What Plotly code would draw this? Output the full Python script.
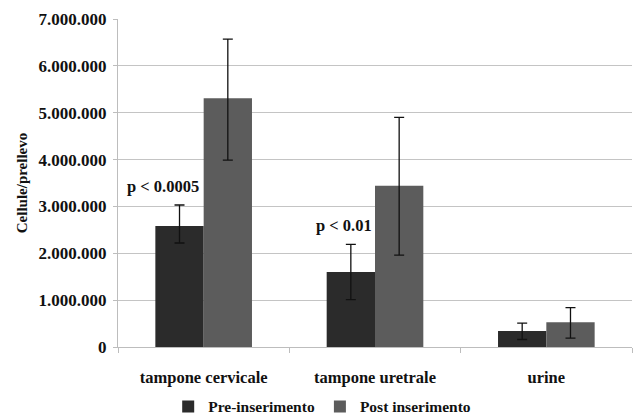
import plotly.graph_objects as go

categories = ["tampone cervicale", "tampone uretrale", "urine"]
pre_values = [2580000, 1600000, 340000]
pre_err_plus = [450000, 590000, 170000]
pre_err_minus = [360000, 590000, 180000]
post_values = [5310000, 3440000, 530000]
post_err_plus = [1260000, 1460000, 310000]
post_err_minus = [1320000, 1480000, 340000]
series_names = ["Pre-inserimento", "Post inserimento"]
p_labels = ["p < 0.0005", "p < 0.01"]
y_tickvals = [0, 1000000, 2000000, 3000000, 4000000, 5000000, 6000000, 7000000]
y_ticktext = ["0", "1.000.000", "2.000.000", "3.000.000", "4.000.000",
              "5.000.000", "6.000.000", "7.000.000"]

FONT = "Liberation Serif, Times New Roman, serif"
fig = go.Figure()
fig.add_trace(go.Bar(
    x=categories, y=pre_values, name=series_names[0],
    marker=dict(color="#2b2b2b", line=dict(width=0)),
    error_y=dict(type="data", symmetric=False, array=pre_err_plus,
                 arrayminus=pre_err_minus, color="#111111", thickness=1.3, width=5),
))
fig.add_trace(go.Bar(
    x=categories, y=post_values, name=series_names[1],
    marker=dict(color="#5c5c5c", line=dict(width=0)),
    error_y=dict(type="data", symmetric=False, array=post_err_plus,
                 arrayminus=post_err_minus, color="#111111", thickness=1.3, width=5),
))

for i, txt in enumerate(p_labels):
    fig.add_annotation(
        x=categories[i], y=pre_values[i] + pre_err_plus[i],
        text=txt, showarrow=False, xshift=-41 if i == 0 else -31, yshift=19,
        yanchor="middle", xanchor="center",
        font=dict(family=FONT, size=16.5, color="#111111", weight="bold"),
    )

fig.update_layout(
    width=633, height=416,
    margin=dict(l=118, r=1, t=19, b=69, autoexpand=False),
    paper_bgcolor="white", plot_bgcolor="white",
    barmode="group", bargap=0.436, bargroupgap=0,
    showlegend=True,
    legend=dict(orientation="h", xref="container", yref="container",
                x=0.509, y=0.022, xanchor="center", yanchor="middle",
                font=dict(family=FONT, size=15.5, color="#111111", weight="bold"),
                itemwidth=30, traceorder="normal"),
    font=dict(family=FONT, color="#111111"),
)
fig.update_xaxes(
    automargin=False,
    showgrid=False, showline=True, linecolor="#bdbdbd", linewidth=1,
    ticks="outside", tickson="boundaries", ticklen=5, tickcolor="#bdbdbd",
    tickfont=dict(family=FONT, size=16.5, color="#111111", weight="bold"),
    ticklabelstandoff=15,
)
fig.update_yaxes(
    automargin=False,
    range=[0, 7000000], tickvals=y_tickvals, ticktext=y_ticktext,
    showgrid=True, gridcolor="#c4c4c4", gridwidth=1,
    showline=True, linecolor="#bdbdbd", linewidth=1,
    ticks="outside", ticklen=4, tickcolor="#bdbdbd",
    tickfont=dict(family=FONT, size=17, color="#111111", weight="bold"),
    ticklabelstandoff=3, zeroline=False,
    title=dict(text="Cellule/prellevo", standoff=7,
               font=dict(family=FONT, size=15, color="#111111", weight="bold")),
)

fig.write_html("out.html", config={"displayModeBar": False},
               post_script="document.body.style.margin='0';")
